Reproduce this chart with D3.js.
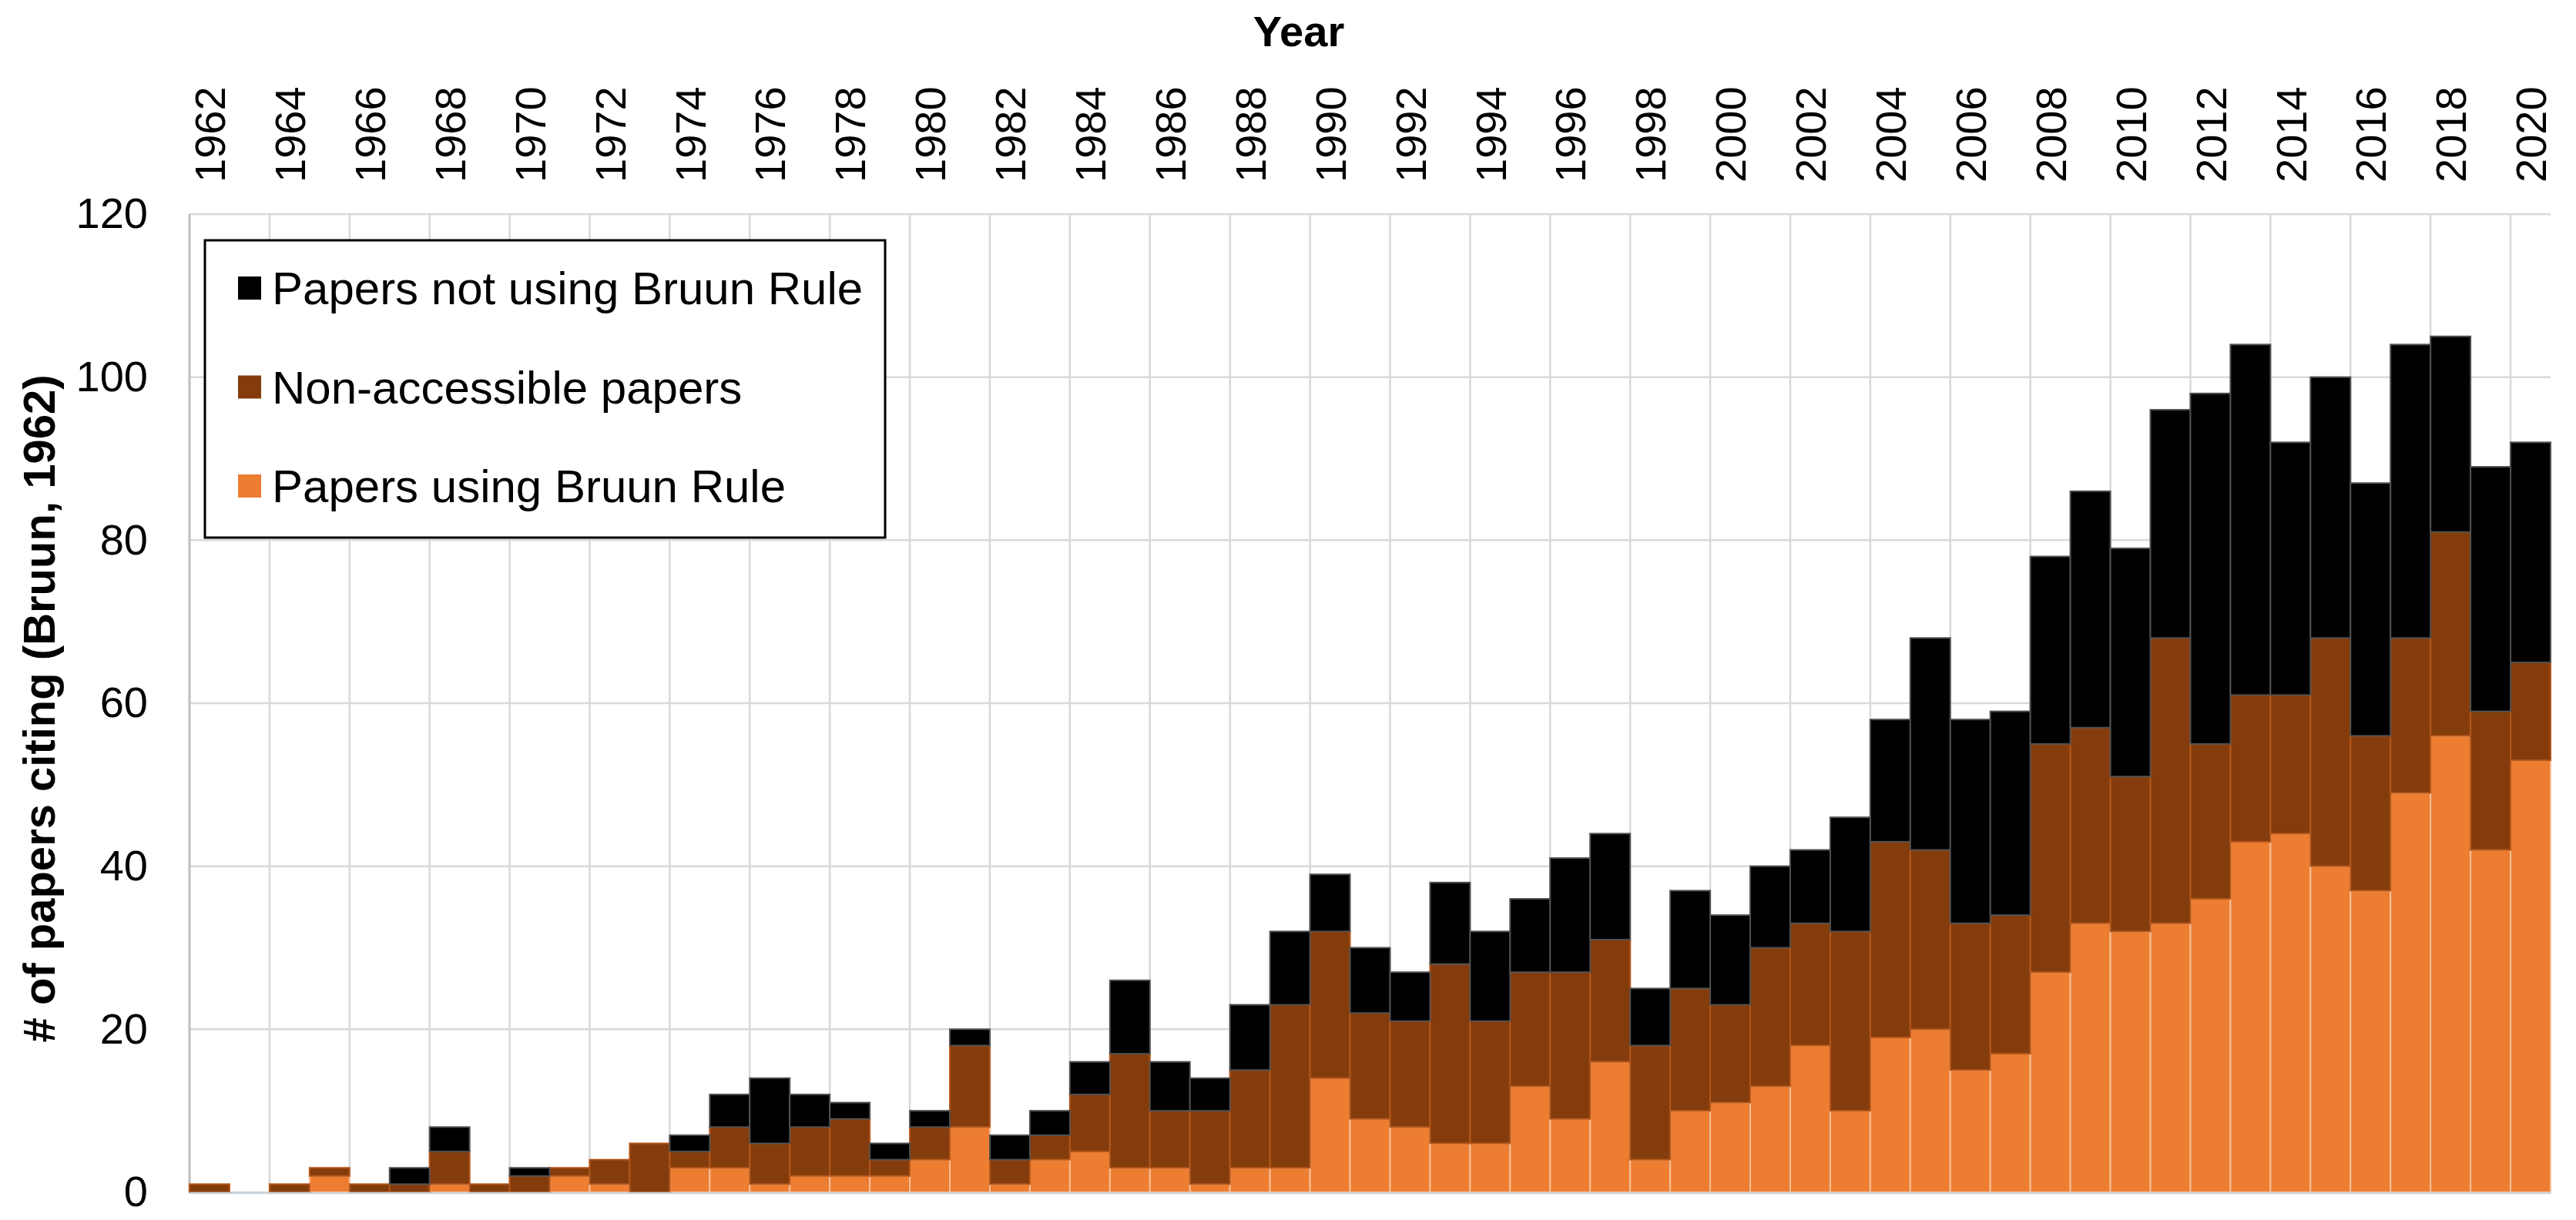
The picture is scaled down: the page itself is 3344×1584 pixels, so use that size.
<!DOCTYPE html>
<html><head><meta charset="utf-8">
<script src="https://cdn.jsdelivr.net/npm/d3@7/dist/d3.min.js"></script>
<style>body{margin:0;background:#fff} text{font-family:"Liberation Sans",Arial,sans-serif}</style>
</head><body><svg id="c" width="3344" height="1584"></svg>
<script>
const years = [1962,1963,1964,1965,1966,1967,1968,1969,1970,1971,1972,1973,1974,1975,1976,1977,1978,1979,1980,1981,1982,1983,1984,1985,1986,1987,1988,1989,1990,1991,1992,1993,1994,1995,1996,1997,1998,1999,2000,2001,2002,2003,2004,2005,2006,2007,2008,2009,2010,2011,2012,2013,2014,2015,2016,2017,2018,2019,2020];
const usingBruun = [0,0,0,2,0,0,1,0,0,2,1,0,3,3,1,2,2,2,4,8,1,4,5,3,3,1,3,3,14,9,8,6,6,13,9,16,4,10,11,13,18,10,19,20,15,17,27,33,32,33,36,43,44,40,37,49,56,42,53];
const nonAccessible = [1,0,1,1,1,1,4,1,2,1,3,6,2,5,5,6,7,2,4,10,3,3,7,14,7,9,12,20,18,13,13,22,15,14,18,15,14,15,12,17,15,22,24,22,18,17,28,24,19,35,19,18,17,28,19,19,25,17,12];
const notUsingBruun = [0,0,0,0,0,2,3,0,1,0,0,0,2,4,8,4,2,2,2,2,3,3,4,9,6,4,8,9,7,8,6,10,11,9,14,13,7,12,11,10,9,14,15,26,25,25,23,29,28,28,43,43,31,32,31,36,24,30,27];
const yTicks = [0,20,40,60,80,100,120];
const labelYears = years.filter((d,i)=>i%2===0);
const seriesKeys = ["using","nonacc","notusing"];
const seriesNames = {using:"Papers using Bruun Rule", nonacc:"Non-accessible papers", notusing:"Papers not using Bruun Rule"};
const colors = {using:"#ED7D31", nonacc:"#843C0C", notusing:"#000000"};
const strokes = {using:"#F6C09A", nonacc:"#B5561A", notusing:"#505050"};

const table = years.map((y,i)=>({year:y, using:usingBruun[i], nonacc:nonAccessible[i], notusing:notUsingBruun[i]}));

const svg = d3.select("#c");
const x = d3.scaleBand().domain(years).range([246,3311]).padding(0);
const y = d3.scaleLinear().domain([0,120]).range([1548,278]);

// gridlines
const grid = svg.append("g");
grid.selectAll("line.h").data(yTicks).join("line")
  .attr("x1",x.range()[0]).attr("x2",x.range()[1])
  .attr("y1",d=>y(d)).attr("y2",d=>y(d))
  .attr("stroke","#d9d9d9").attr("stroke-width",2.5);
grid.selectAll("line.v").data(labelYears).join("line")
  .attr("x1",d=>x(d)).attr("x2",d=>x(d))
  .attr("y1",y(120)).attr("y2",y(0))
  .attr("stroke",(d,i)=>i===0?"#bfbfbf":"#d9d9d9").attr("stroke-width",(d,i)=>i===0?3:2.5);

// bars
const stack = d3.stack().keys(seriesKeys)(table);
svg.append("g").selectAll("g").data(stack).join("g")
  .attr("fill",d=>colors[d.key]).attr("stroke",d=>strokes[d.key]).attr("stroke-width",2)
  .selectAll("rect").data(d=>d.filter(s=>s[1]-s[0]>0)).join("rect")
  .attr("x",d=>x(d.data.year)).attr("width",x.bandwidth())
  .attr("y",d=>y(d[1])).attr("height",d=>y(d[0])-y(d[1]));

// baseline
svg.append("line").attr("x1",x.range()[0]).attr("x2",x.range()[1])
  .attr("y1",y(0)+1).attr("y2",y(0)+1).attr("stroke","#c8d0d8").attr("stroke-width",2.5);

// y axis
const ya = svg.append("g").attr("transform",`translate(${x.range()[0]},0)`)
  .call(d3.axisLeft(y).tickValues(yTicks).tickSize(0).tickPadding(54));
ya.select(".domain").remove();
ya.selectAll("text").attr("font-size",56).attr("fill","#000").attr("font-family","'Liberation Sans',Arial,sans-serif");

// x axis on top
const xa = svg.append("g").attr("transform","translate(0,237)")
  .call(d3.axisTop(x).tickValues(labelYears).tickSize(0).tickPadding(0));
xa.select(".domain").remove();
xa.selectAll("text").attr("font-size",56).attr("fill","#000")
  .attr("font-family","'Liberation Sans',Arial,sans-serif")
  .attr("transform","rotate(-90)").attr("text-anchor","start")
  .attr("x",0).attr("y",0).attr("dy","0.36em");

// titles
svg.append("text").attr("x",1686).attr("y",60).attr("text-anchor","middle")
  .attr("font-size",56).attr("font-weight","bold").text("Year");
svg.append("text").attr("transform","translate(71,920) rotate(-90)").attr("text-anchor","middle")
  .attr("font-size",58).attr("font-weight","bold").text("# of papers citing (Bruun, 1962)");

// legend
const lg = svg.append("g");
lg.append("rect").attr("x",266).attr("y",312).attr("width",883).attr("height",386)
  .attr("fill","#fff").attr("stroke","#000").attr("stroke-width",3);
const legendOrder = ["notusing","nonacc","using"];
const ly = d3.scalePoint().domain(legendOrder).range([395,652]);
legendOrder.forEach(k=>{
  lg.append("rect").attr("x",309).attr("y",ly(k)-36).attr("width",30).attr("height",30).attr("fill",colors[k]);
  lg.append("text").attr("x",353).attr("y",ly(k)).attr("font-size",60).attr("fill","#000").text(seriesNames[k]);
});
</script></body></html>
